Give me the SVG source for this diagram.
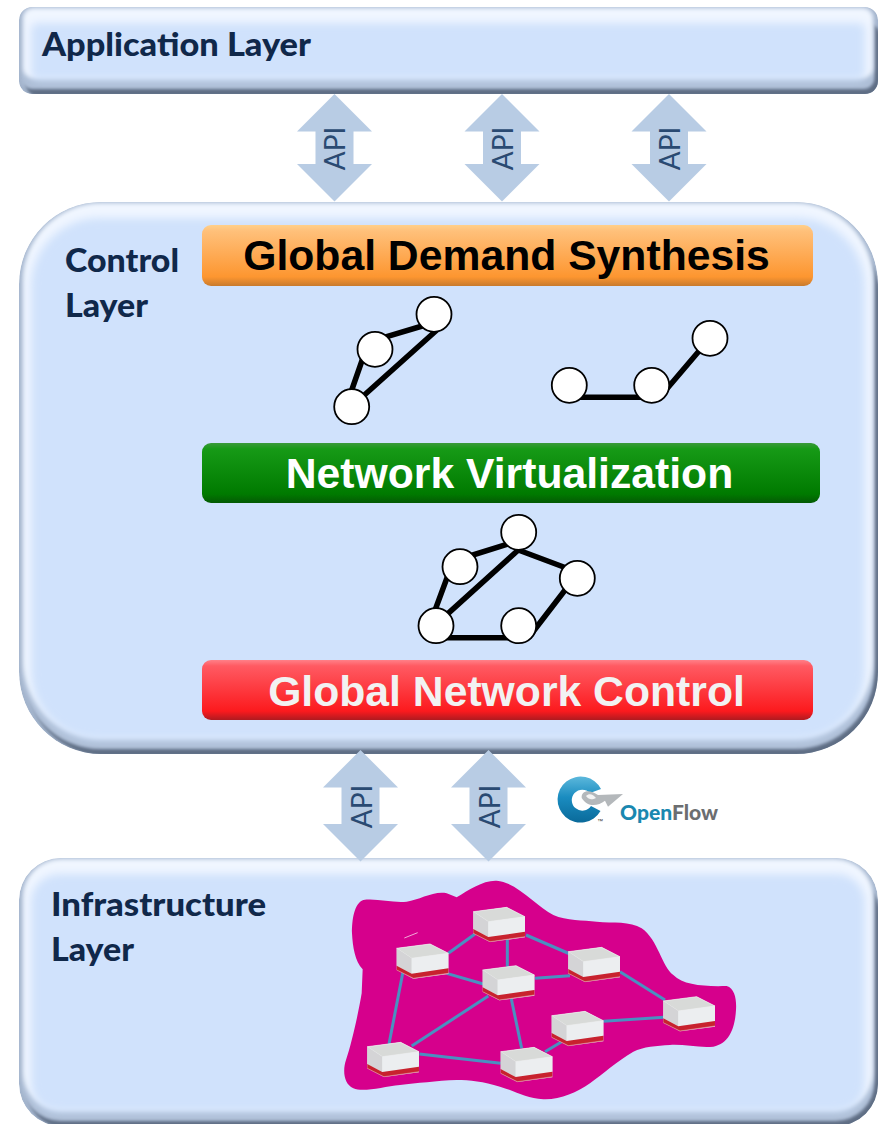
<svg xmlns="http://www.w3.org/2000/svg" width="880" height="1124" viewBox="0 0 880 1124">
<style>
.layer-label{font-family:Lato,"Liberation Sans",sans-serif;font-weight:900;font-size:31.5px;fill:#10284a}
.bar-label{font-family:"Liberation Sans",Arial,sans-serif;font-weight:700;font-size:42.7px;text-anchor:middle}
.api{font-family:Lato,"Liberation Sans",sans-serif;font-size:28px;fill:#2a4a72;text-anchor:middle}
.arrow{fill:#b8cce4}
.edge{stroke:#000;stroke-width:5.500;fill:none}
.vn{fill:#fff;stroke:#000;stroke-width:1.800}
.link{stroke:#4a90c0;stroke-width:9;fill:none}
.outer{fill:#a3b4cc}
.dark{fill:#5f6e85;filter:url(#b1)}
.mid{fill:#adbed6;filter:url(#b1)}
.hi{fill:#f0f6ff;filter:url(#b2)}
.base{fill:#d0e2fc;filter:url(#b3)}
</style>
<defs>
<filter id="b1" x="-5%" y="-20%" width="110%" height="140%"><feGaussianBlur stdDeviation="1.500"/></filter>
<filter id="b2" x="-5%" y="-20%" width="110%" height="140%"><feGaussianBlur stdDeviation="2.200"/></filter>
<filter id="b3" x="-5%" y="-30%" width="110%" height="160%"><feGaussianBlur stdDeviation="4"/></filter>
<clipPath id="clipApp"><rect x="19" y="7" width="859" height="87" rx="13"/></clipPath>
<clipPath id="clipCtl"><rect x="19" y="202" width="859" height="552" rx="82"/></clipPath>
<clipPath id="clipInf"><rect x="19" y="858" width="859" height="268" rx="42"/></clipPath>
<linearGradient id="orange" x1="0" y1="0" x2="0" y2="1">
<stop offset="0" stop-color="#ffd08a"/><stop offset=".1" stop-color="#ffc07a"/><stop offset=".85" stop-color="#fd9630"/><stop offset="1" stop-color="#c87a2c"/>
</linearGradient>
<linearGradient id="green" x1="0" y1="0" x2="0" y2="1">
<stop offset="0" stop-color="#3a9a3a"/><stop offset=".1" stop-color="#169a16"/><stop offset=".85" stop-color="#007a00"/><stop offset="1" stop-color="#045a04"/>
</linearGradient>
<linearGradient id="red" x1="0" y1="0" x2="0" y2="1">
<stop offset="0" stop-color="#ff8088"/><stop offset=".1" stop-color="#ff5a62"/><stop offset=".85" stop-color="#fc1a1e"/><stop offset="1" stop-color="#b01a20"/>
</linearGradient>
<linearGradient id="ring" x1="0" y1="0" x2="0" y2="1">
<stop offset="0" stop-color="#5cb8dc"/><stop offset=".45" stop-color="#1a8cc0"/><stop offset="1" stop-color="#0a6a9a"/>
</linearGradient>
<path id="dbl1" d="M0 0L37.500 37.500H19V70H37.500L0 107.500L-37.500 70H-19V37.500H-37.500Z"/>
<path id="dbl2" d="M0 0L37.500 37.500H19V74H37.500L0 111.500L-37.500 74H-19V37.500H-37.500Z"/>
<g id="sw">
<path d="M0 0L100 -13L155 15V70L155 77L50 91L0 65Z" fill="#e8eaec"/>
<path d="M0 0L100 -13L155 15L45 30Z" fill="#d8dad8" stroke="#eeeeee" stroke-width="2"/>
<path d="M0 0L45 30V76L0 52Z" fill="#d4d4d6"/>
<path d="M45 30L155 15V60L45 76Z" fill="#eceef0"/>
<path d="M0 52L45 76L155 60V75L50 90L0 65Z" fill="#c8222e"/>
<path d="M0 65L50 90L155 75" fill="none" stroke="#e08898" stroke-width="2"/>
</g>
</defs>

<g id="application-layer">
<g clip-path="url(#clipApp)">
<rect class="outer" x="19" y="7" width="859" height="87" rx="13"/>
<rect class="dark" x="26" y="24" width="854" height="72" rx="12"/>
<rect class="mid" x="21.500" y="7" width="853" height="82" rx="11"/>
<rect class="hi" x="23" y="8" width="850" height="70" rx="10"/>
<rect class="base" x="31" y="23" width="834" height="57" rx="6"/>
</g>
<text class="layer-label" x="42" y="56" textLength="269" lengthAdjust="spacingAndGlyphs">Application Layer</text>
</g>

<g id="control-layer">
<g clip-path="url(#clipCtl)">
<rect class="outer" x="19" y="202" width="859" height="552" rx="82"/>
<rect class="dark" x="26" y="219" width="854" height="537" rx="80"/>
<rect class="mid" x="21.500" y="202" width="853" height="547" rx="79"/>
<rect class="hi" x="23" y="203" width="850" height="535" rx="78"/>
<rect class="base" x="31" y="218" width="834" height="522" rx="68"/>
</g>
<text class="layer-label" x="65" y="272" textLength="114" lengthAdjust="spacingAndGlyphs">Control</text>
<text class="layer-label" x="65" y="317" textLength="83" lengthAdjust="spacingAndGlyphs">Layer</text>
</g>

<g id="infrastructure-layer">
<g clip-path="url(#clipInf)">
<rect class="outer" x="19" y="858" width="859" height="268" rx="42"/>
<rect class="dark" x="26" y="875" width="854" height="253" rx="40"/>
<rect class="mid" x="21.500" y="858" width="853" height="263" rx="39"/>
<rect class="hi" x="23" y="859" width="850" height="251" rx="38"/>
<rect class="base" x="31" y="874" width="834" height="238" rx="28"/>
</g>
<text class="layer-label" x="51" y="916" textLength="215" lengthAdjust="spacingAndGlyphs">Infrastructure</text>
<text class="layer-label" x="51" y="961" textLength="83" lengthAdjust="spacingAndGlyphs">Layer</text>
</g>

<g id="network-cloud" transform="translate(340,870) scale(.33333)">
<path d="M70 90C110 84 160 100 200 95C240 90 280 62 320 70L350 82C385 60 430 30 470 32C530 36 590 110 640 135C680 153 730 150 770 155C820 160 870 152 905 175C955 210 965 290 1000 315C1030 345 1090 350 1160 348C1185 355 1190 390 1188 420C1185 470 1170 520 1120 530C1080 535 1030 522 990 525C950 528 910 530 880 545C830 575 790 610 750 640C710 668 660 690 610 688C560 686 530 665 480 650C430 635 390 630 350 630C290 632 230 640 180 645C130 650 70 668 40 655C10 640 8 600 18 570C35 520 55 430 65 370L68 298C45 275 38 230 36 190C36 150 42 100 70 90Z" fill="#d6008c"/>
<path d="M193 204L233 188" stroke="#fff" stroke-width="2" fill="none"/>
</g>

<g id="connectors">
<use href="#dbl1" class="arrow" x="334.500" y="94"/>
<use href="#dbl1" class="arrow" x="502" y="94"/>
<use href="#dbl1" class="arrow" x="669" y="94"/>
<use href="#dbl2" class="arrow" x="360.500" y="750"/>
<use href="#dbl2" class="arrow" x="488.500" y="750"/>
<path class="edge" d="M375 340.200L434 322.500M365 352L350 395M438 329L351 407"/>
<path class="edge" d="M569 397.300H651.500M665 391L705 344"/>
<path class="edge" d="M460 559L518 541M518.300 550L577 572M451 567L434 613M518.300 550L436 624.400M436 637.700H519M572 581L529 637"/>
<g transform="translate(340,870) scale(.33333)">
<path class="link" d="M325 250L405 192M502 205V290M558 195L690 252M320 310L430 342M585 325L690 317M840 305L975 390M790 454L972 442M615 545L665 515M513 382L545 535M445 378L215 528M190 300L147 522M238 552L482 580"/>
</g>
</g>

<g id="api-labels">
<text class="api" transform="translate(345,148.500) rotate(-90)">API</text>
<text class="api" transform="translate(513,148.500) rotate(-90)">API</text>
<text class="api" transform="translate(680,148.500) rotate(-90)">API</text>
<text class="api" transform="translate(371.500,806.500) rotate(-90)">API</text>
<text class="api" transform="translate(499.500,806.500) rotate(-90)">API</text>
</g>

<g id="global-demand-synthesis">
<rect x="202" y="225" width="611" height="61" rx="9" fill="url(#orange)"/>
<text class="bar-label" x="506.500" y="270" fill="#000">Global Demand Synthesis</text>
</g>
<g id="network-virtualization">
<rect x="202" y="443" width="618" height="60" rx="9" fill="url(#green)"/>
<text class="bar-label" x="509.500" y="488" fill="#fff">Network Virtualization</text>
</g>
<g id="global-network-control">
<rect x="202" y="660" width="611" height="60" rx="9" fill="url(#red)"/>
<text class="bar-label" x="506.500" y="706" fill="#f2f2f2">Global Network Control</text>
</g>

<g id="virtual-graph-a">
<circle class="vn" cx="434" cy="314.300" r="17.500"/><circle class="vn" cx="375" cy="349.300" r="17.500"/><circle class="vn" cx="351.700" cy="406.700" r="17.500"/>
</g>
<g id="virtual-graph-b">
<circle class="vn" cx="569.300" cy="385.300" r="17.500"/><circle class="vn" cx="651.700" cy="385.300" r="17.500"/><circle class="vn" cx="710" cy="338.300" r="17.500"/>
</g>
<g id="physical-graph">
<circle class="vn" cx="518.700" cy="532.300" r="17.500"/><circle class="vn" cx="460" cy="566.700" r="17.500"/><circle class="vn" cx="577.300" cy="578.300" r="17.500"/><circle class="vn" cx="436" cy="625.700" r="17.500"/><circle class="vn" cx="518.700" cy="625.700" r="17.500"/>
</g>

<g id="openflow-logo">
<path d="M601 789A23 23 0 1 0 600.500 811L591 806A10.500 10.500 0 1 1 590 793Z" fill="url(#ring)"/>
<path d="M581.700 798C581 790 590 789 598 795L623 794L608 806.700L605 800.700C598 806 588 808 581.700 798Z" fill="#b4b8bb"/>
<path d="M586 796C589 793 593 794 596 798C592 800 589 800 586 796Z" fill="#f4f4f4"/>
<text x="620" y="819.500" font-family="Lato,'Liberation Sans',sans-serif" font-weight="900" font-size="20.500" textLength="98" lengthAdjust="spacingAndGlyphs"><tspan fill="#1a88b0">Open</tspan><tspan fill="#6c6e70">Flow</tspan></text>
<text x="597" y="823" font-family="'Liberation Sans',sans-serif" font-size="6" fill="#333">™</text>
</g>

<g id="switch-1" transform="translate(473.300,911.700) scale(.33333)"><use href="#sw"/></g>
<g id="switch-2" transform="translate(396.700,948.300) scale(.33333)"><use href="#sw"/></g>
<g id="switch-3" transform="translate(482.700,970) scale(.33333)"><use href="#sw"/></g>
<g id="switch-4" transform="translate(568.300,951.700) scale(.33333)"><use href="#sw"/></g>
<g id="switch-5" transform="translate(663.300,1001) scale(.33333)"><use href="#sw"/></g>
<g id="switch-6" transform="translate(551.700,1015.700) scale(.33333)"><use href="#sw"/></g>
<g id="switch-7" transform="translate(367.300,1046.700) scale(.33333)"><use href="#sw"/></g>
<g id="switch-8" transform="translate(500.700,1051.700) scale(.33333)"><use href="#sw"/></g>
</svg>
